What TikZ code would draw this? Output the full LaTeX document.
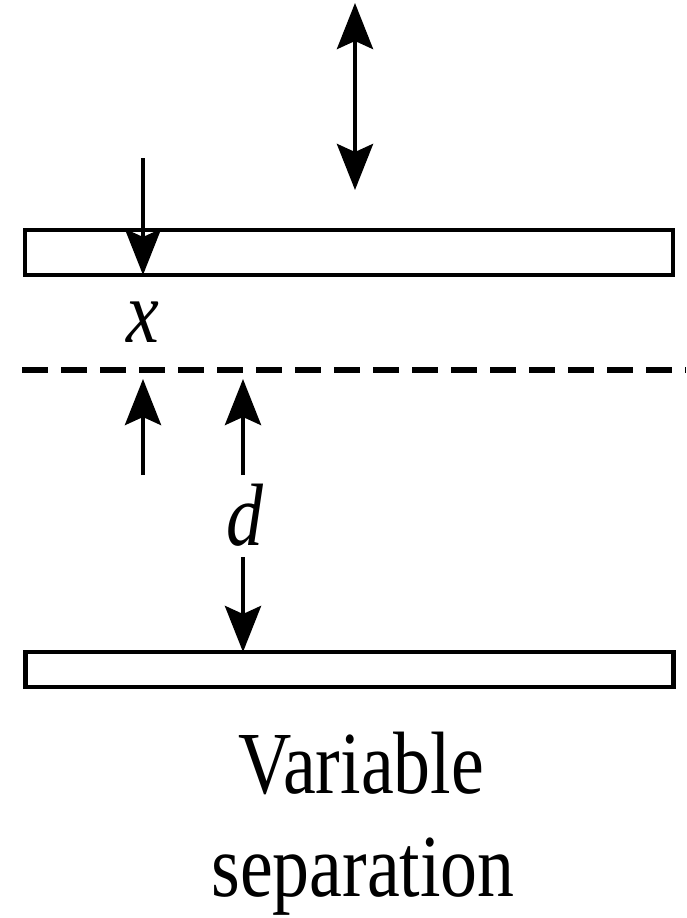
\documentclass[tikz,border=0pt]{standalone}
\usepackage{fontspec}
\setmainfont{Liberation Serif}
\usetikzlibrary{positioning,arrows.meta}
\newcommand{\tall}[1]{\scalebox{1}[1.2]{#1}}

\begin{document}
\begin{tikzpicture}[
    >={Stealth[length=0.46cm, width=0.36cm, inset=0.08cm]},
    plate/.style={draw, line width=1.4pt, minimum width=6.48cm, inner sep=0pt, outer sep=0pt},
    gap/.style={line width=1.3pt, ->},
    lbl/.style={font=\fontsize{21}{25}\selectfont, inner sep=0pt}]
    \useasboundingbox (0,0) rectangle (6.86,-9.18);

    % the two plates, the upper one moves
    \node[plate, minimum height=0.45cm] (top) at (3.49,-2.525) {};
    \node[plate, minimum height=0.35cm] (bot) at (3.495,-6.695) {};

    \coordinate (mu) at (3.55,-0.03);
    \coordinate (md) at (3.55,-1.90);
    \draw[gap, <->] (mu) -- (md);

    % equilibrium position of the upper plate
    \draw[line width=1.5pt, dash pattern=on 0.26cm off 0.13cm] (0.22,-3.70) -- (6.86,-3.70);

    \coordinate (xin) at (1.43,-1.58);
    \draw[gap] (xin) -- (xin |- top.south);
    \node[lbl] (xl) at (1.43,-3.22) {\tall{\textit{x}}};
    \coordinate (xb) at (1.43,-4.75);
    \coordinate (xt) at (1.43,-3.79);
    \draw[gap] (xb) -- (xt);

    \coordinate (db) at (2.43,-4.75);
    \coordinate (dt) at (2.43,-3.79);
    \draw[gap] (db) -- (dt);
    \node[lbl] (dl) at (2.45,-5.15) {\tall{\textit{d}}};
    \coordinate (dd) at (2.43,-5.57);
    \draw[gap] (dd) -- (dd |- bot.north);

    \node[lbl, anchor=base] (cap1) at (3.61,-7.93) {\tall{Variable}};
    \node[lbl, anchor=base] (cap2) at (3.63,-8.96) {\tall{separation}};
\end{tikzpicture}
\end{document}
